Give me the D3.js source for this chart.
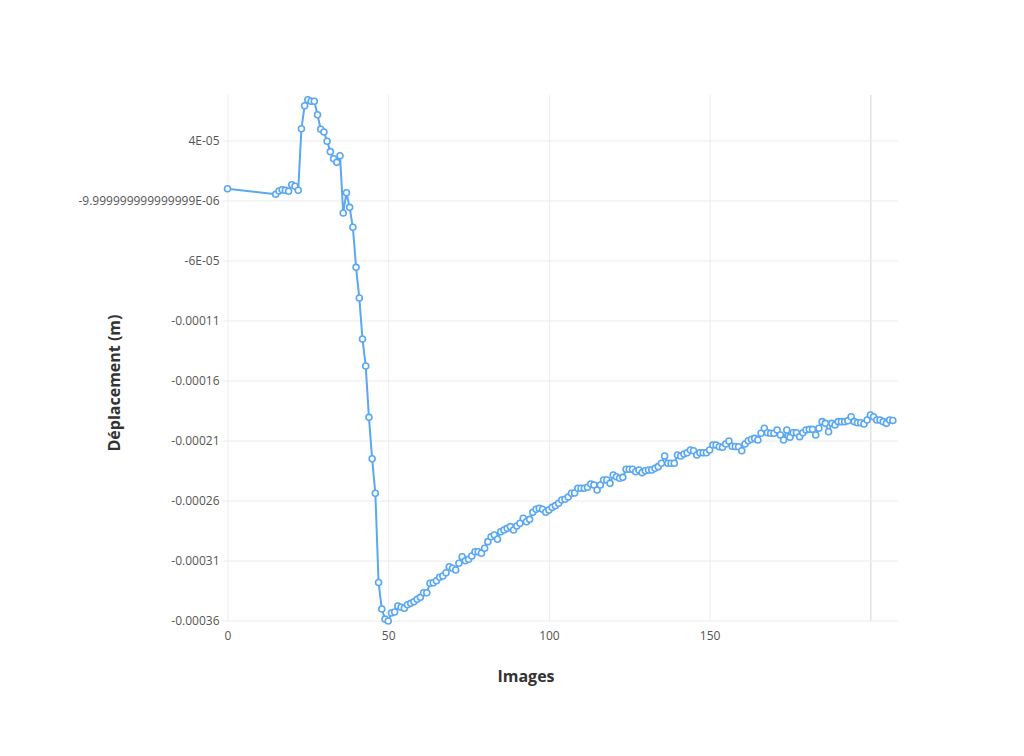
<!DOCTYPE html>
<html>
<head>
<meta charset="utf-8">
<script src="https://cdn.jsdelivr.net/npm/d3@7"></script>
<style>
  body { margin: 0; background: #fff; }
  svg { font-family: "Open Sans", sans-serif; }
</style>
</head>
<body>
<div id="chart"></div>
<script>
// Data: frame numbers and displacement (read in micrometres, converted to m below)
let firstFrame = 0;
let firstValue = -0.2;
let startFrame = 15;   // frames 15..207 are consecutive
let displacementMicro = [
  -4.83, -2.08, -1.0, -1.5, -2.33, 3.17, 1.83, -1.5,
  49.8, 69.0, 74.0, 72.7, 72.7, 61.5, 49.3, 47.1, 39.3, 30.7, 24.8, 21.8, 27.3,
  -20.4, -3.5, -15.7, -32.3, -65.7, -91.2, -125.4, -147.9, -190.7, -225.2, -254.0,
  -328.3, -350.4, -358.8, -360.4, -353.7, -352.9, -347.9, -349.0, -349.8, -346.8,
  -345.7, -344.3, -342.3, -340.7, -336.8, -336.8, -329.0, -328.5, -326.8, -324.0,
  -322.9, -320.2, -315.2, -316.5, -317.9, -312.3, -306.8, -310.2, -309.0, -306.2,
  -302.7, -302.7, -304.0, -299.8, -294.3, -290.2, -288.7, -292.3, -286.0, -284.6,
  -283.2, -281.8, -284.6, -281.2, -279.0, -274.8, -277.7, -275.7, -269.8, -267.3,
  -266.5, -267.3, -269.8, -267.9, -265.7, -264.3, -262.3, -259.6, -259.0, -257.1,
  -254.0, -253.7, -249.8, -249.8, -249.8, -249.0, -246.2, -247.1, -251.2, -247.1,
  -242.9, -242.9, -245.7, -238.7, -240.2, -241.5, -240.7, -234.0, -234.0, -234.0,
  -236.0, -234.6, -236.8, -235.2, -234.6, -234.6, -233.2, -231.8, -229.0, -222.9,
  -229.0, -229.0, -229.0, -222.1, -222.9, -221.2, -220.2, -217.9, -218.5, -222.1,
  -220.2, -220.2, -220.2, -217.9, -213.7, -213.7, -215.2, -215.7, -212.9, -210.4,
  -214.8, -215.0, -215.2, -218.5, -212.9, -210.2, -209.0, -208.2, -209.6, -204.0,
  -199.8, -203.5, -204.0, -204.0, -201.2, -205.4, -209.6, -201.2, -207.3, -203.5,
  -203.5, -206.8, -203.5, -201.2, -200.7, -200.7, -205.4, -199.8, -194.3, -195.7,
  -202.7, -195.7, -197.1, -194.3, -194.3, -194.3, -193.5, -190.2, -194.3, -195.2,
  -195.2, -196.2, -192.9, -188.7, -190.2, -192.9, -192.9, -194.3, -195.7, -192.9,
  -193.3
];

// Axis ticks and their labels as shown by the original tool
let xTicks = [0, 50, 100, 150, 200];
let xTickLabels = ["0", "50", "100", "150", ""];
let yTicks = [4e-5, -1e-5, -6e-5, -1.1e-4, -1.6e-4, -2.1e-4, -2.6e-4, -3.1e-4, -3.6e-4];
let yTickLabels = ["4E-05", "-9.999999999999999E-06", "-6E-05", "-0.00011", "-0.00016",
  "-0.00021", "-0.00026", "-0.00031", "-0.00036"];

let points = [{x: firstFrame, y: firstValue * 1e-6}]
  .concat(displacementMicro.map((d, i) => ({x: startFrame + i, y: d * 1e-6})));

// svg attributes
let svgWidth = 1024;
let svgHeight = 756;
let plotLeft = 227.5, plotRight = 898, plotTop = 95, plotBottom = 621;
let blue = "#5aa7f2";

let svg = d3.select("#chart")
  .append("svg")
  .attr("width", svgWidth)
  .attr("height", svgHeight);

let xScale = d3.scaleLinear()
  .domain([0, 208.6])
  .range([plotLeft, plotRight]);

let yScale = d3.scaleLinear()
  .domain([-0.0003604, 0.0000779])
  .range([plotBottom, plotTop]);

// vertical grid + x labels
let xAxis = d3.axisBottom(xScale)
  .tickValues(xTicks)
  .tickSize(-(plotBottom - plotTop))
  .tickPadding(10)
  .tickFormat((d, i) => xTickLabels[i]);

let gx = svg.append("g")
  .attr("transform", `translate(0,${plotBottom})`)
  .call(xAxis);
gx.select(".domain").remove();
gx.selectAll(".tick line")
  .attr("stroke", (d) => d === 200 ? "#d4d4d4" : "#ececec")
  .attr("stroke-width", 1);
gx.selectAll(".tick text")
  .attr("fill", "#555")
  .attr("font-size", 12)
  .attr("font-family", "Open Sans, sans-serif");

// horizontal grid + y labels
let yAxis = d3.axisLeft(yScale)
  .tickValues(yTicks)
  .tickSize(-(plotRight - plotLeft) - 5)
  .tickPadding(3)
  .tickFormat((d, i) => yTickLabels[i]);

let gy = svg.append("g")
  .attr("transform", `translate(${plotLeft - 5},0)`)
  .call(yAxis);
gy.select(".domain").remove();
gy.selectAll(".tick line")
  .attr("stroke", "#ececec")
  .attr("stroke-width", 1);
gy.selectAll(".tick text")
  .attr("fill", "#555")
  .attr("font-size", 12)
  .attr("font-family", "Open Sans, sans-serif");

// line
let line = d3.line()
  .x(d => xScale(d.x))
  .y(d => yScale(d.y));

svg.append("path")
  .datum(points)
  .attr("d", line)
  .attr("fill", "none")
  .attr("stroke", blue)
  .attr("stroke-width", 2);

svg.append("g")
  .selectAll("circle")
  .data(points)
  .enter()
  .append("circle")
  .attr("cx", d => xScale(d.x))
  .attr("cy", d => yScale(d.y))
  .attr("r", 3)
  .attr("fill", "#fff")
  .attr("stroke", blue)
  .attr("stroke-width", 1.6);

// axis titles
svg.append("text")
  .attr("x", 526)
  .attr("y", 682)
  .attr("text-anchor", "middle")
  .attr("font-size", 16)
  .attr("font-weight", "bold")
  .attr("fill", "#333")
  .text("Images");

svg.append("text")
  .attr("transform", "translate(120,383) rotate(-90)")
  .attr("text-anchor", "middle")
  .attr("font-size", 16)
  .attr("font-weight", "bold")
  .attr("fill", "#333")
  .text("Déplacement (m)");
</script>
</body>
</html>
